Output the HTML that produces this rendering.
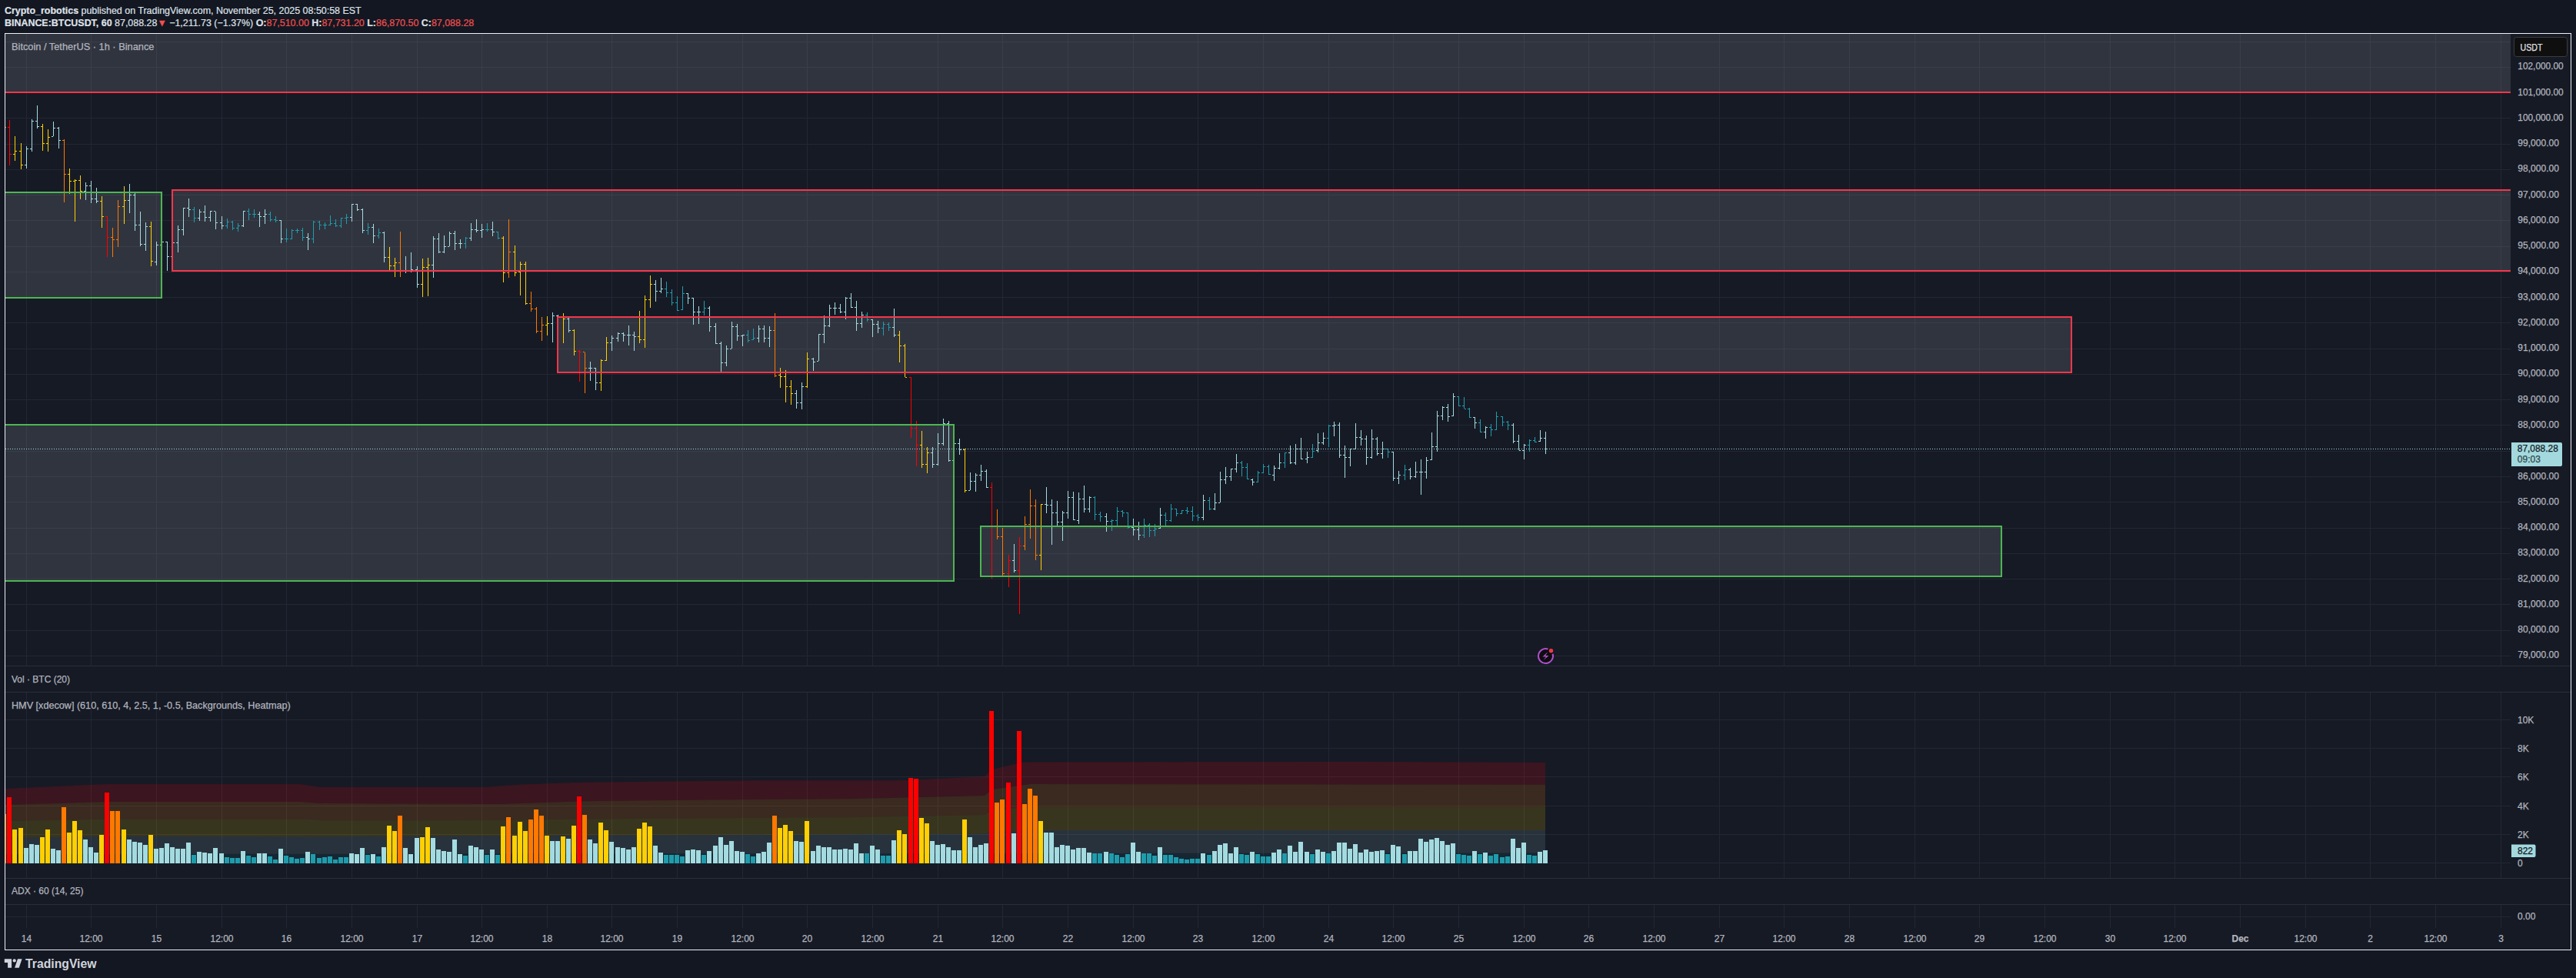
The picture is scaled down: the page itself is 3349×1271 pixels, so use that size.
<!DOCTYPE html>
<html><head><meta charset="utf-8"><title>BTCUSDT chart</title>
<style>
html,body{margin:0;padding:0;background:#131722;}
body{width:3349px;height:1271px;overflow:hidden;position:relative;font-family:"Liberation Sans",Arial,sans-serif;}
svg{position:absolute;left:0;top:0;}
.ax{font-family:"Liberation Sans",Arial,sans-serif;font-size:12px;fill:#b2b5be;stroke:#b2b5be;stroke-width:0.25px;}
.lbl{font-family:"Liberation Sans",Arial,sans-serif;font-size:12px;fill:#b2b5be;stroke:#b2b5be;stroke-width:0.25px;}
.hdr{position:absolute;left:6px;white-space:nowrap;color:#dfe1e8;font-size:12.45px;line-height:15px;-webkit-text-stroke-width:0.2px;}
.hdr b{font-weight:bold;}
.r{color:#f0504f;}
.logo{position:absolute;left:6px;top:1242px;height:22px;}
</style></head>
<body>
<div class="hdr" style="top:6.5px"><b>Crypto_robotics</b> published on TradingView.com, November 25, 2025 08:50:58 EST</div>
<div class="hdr" style="top:23.3px"><b>BINANCE:BTCUSDT, 60</b> 87,088.28<span class="r">▼</span> −1,211.73 (−1.37%) <b>O:</b><span class="r">87,510.00</span> <b>H:</b><span class="r">87,731.20</span> <b>L:</b><span class="r">86,870.50</span> <b>C:</b><span class="r">87,088.28</span></div>
<svg width="3349" height="1271" viewBox="0 0 3349 1271" style="top:0">
<rect x="7" y="44" width="3335" height="1190" fill="#161a25"/>
<rect x="34" y="44" width="1" height="821" fill="#232733"/>
<rect x="118" y="44" width="1" height="821" fill="#232733"/>
<rect x="203" y="44" width="1" height="821" fill="#232733"/>
<rect x="288" y="44" width="1" height="821" fill="#232733"/>
<rect x="372" y="44" width="1" height="821" fill="#232733"/>
<rect x="457" y="44" width="1" height="821" fill="#232733"/>
<rect x="542" y="44" width="1" height="821" fill="#232733"/>
<rect x="626" y="44" width="1" height="821" fill="#232733"/>
<rect x="711" y="44" width="1" height="821" fill="#232733"/>
<rect x="795" y="44" width="1" height="821" fill="#232733"/>
<rect x="880" y="44" width="1" height="821" fill="#232733"/>
<rect x="965" y="44" width="1" height="821" fill="#232733"/>
<rect x="1049" y="44" width="1" height="821" fill="#232733"/>
<rect x="1134" y="44" width="1" height="821" fill="#232733"/>
<rect x="1219" y="44" width="1" height="821" fill="#232733"/>
<rect x="1303" y="44" width="1" height="821" fill="#232733"/>
<rect x="1388" y="44" width="1" height="821" fill="#232733"/>
<rect x="1473" y="44" width="1" height="821" fill="#232733"/>
<rect x="1557" y="44" width="1" height="821" fill="#232733"/>
<rect x="1642" y="44" width="1" height="821" fill="#232733"/>
<rect x="1727" y="44" width="1" height="821" fill="#232733"/>
<rect x="1811" y="44" width="1" height="821" fill="#232733"/>
<rect x="1896" y="44" width="1" height="821" fill="#232733"/>
<rect x="1981" y="44" width="1" height="821" fill="#232733"/>
<rect x="2065" y="44" width="1" height="821" fill="#232733"/>
<rect x="2150" y="44" width="1" height="821" fill="#232733"/>
<rect x="2235" y="44" width="1" height="821" fill="#232733"/>
<rect x="2319" y="44" width="1" height="821" fill="#232733"/>
<rect x="2404" y="44" width="1" height="821" fill="#232733"/>
<rect x="2489" y="44" width="1" height="821" fill="#232733"/>
<rect x="2573" y="44" width="1" height="821" fill="#232733"/>
<rect x="2658" y="44" width="1" height="821" fill="#232733"/>
<rect x="2743" y="44" width="1" height="821" fill="#232733"/>
<rect x="2827" y="44" width="1" height="821" fill="#232733"/>
<rect x="2912" y="44" width="1" height="821" fill="#232733"/>
<rect x="2997" y="44" width="1" height="821" fill="#232733"/>
<rect x="3081" y="44" width="1" height="821" fill="#232733"/>
<rect x="3166" y="44" width="1" height="821" fill="#232733"/>
<rect x="3251" y="44" width="1" height="821" fill="#232733"/>
<rect x="34" y="900" width="1" height="241" fill="#232733"/>
<rect x="118" y="900" width="1" height="241" fill="#232733"/>
<rect x="203" y="900" width="1" height="241" fill="#232733"/>
<rect x="288" y="900" width="1" height="241" fill="#232733"/>
<rect x="372" y="900" width="1" height="241" fill="#232733"/>
<rect x="457" y="900" width="1" height="241" fill="#232733"/>
<rect x="542" y="900" width="1" height="241" fill="#232733"/>
<rect x="626" y="900" width="1" height="241" fill="#232733"/>
<rect x="711" y="900" width="1" height="241" fill="#232733"/>
<rect x="795" y="900" width="1" height="241" fill="#232733"/>
<rect x="880" y="900" width="1" height="241" fill="#232733"/>
<rect x="965" y="900" width="1" height="241" fill="#232733"/>
<rect x="1049" y="900" width="1" height="241" fill="#232733"/>
<rect x="1134" y="900" width="1" height="241" fill="#232733"/>
<rect x="1219" y="900" width="1" height="241" fill="#232733"/>
<rect x="1303" y="900" width="1" height="241" fill="#232733"/>
<rect x="1388" y="900" width="1" height="241" fill="#232733"/>
<rect x="1473" y="900" width="1" height="241" fill="#232733"/>
<rect x="1557" y="900" width="1" height="241" fill="#232733"/>
<rect x="1642" y="900" width="1" height="241" fill="#232733"/>
<rect x="1727" y="900" width="1" height="241" fill="#232733"/>
<rect x="1811" y="900" width="1" height="241" fill="#232733"/>
<rect x="1896" y="900" width="1" height="241" fill="#232733"/>
<rect x="1981" y="900" width="1" height="241" fill="#232733"/>
<rect x="2065" y="900" width="1" height="241" fill="#232733"/>
<rect x="2150" y="900" width="1" height="241" fill="#232733"/>
<rect x="2235" y="900" width="1" height="241" fill="#232733"/>
<rect x="2319" y="900" width="1" height="241" fill="#232733"/>
<rect x="2404" y="900" width="1" height="241" fill="#232733"/>
<rect x="2489" y="900" width="1" height="241" fill="#232733"/>
<rect x="2573" y="900" width="1" height="241" fill="#232733"/>
<rect x="2658" y="900" width="1" height="241" fill="#232733"/>
<rect x="2743" y="900" width="1" height="241" fill="#232733"/>
<rect x="2827" y="900" width="1" height="241" fill="#232733"/>
<rect x="2912" y="900" width="1" height="241" fill="#232733"/>
<rect x="2997" y="900" width="1" height="241" fill="#232733"/>
<rect x="3081" y="900" width="1" height="241" fill="#232733"/>
<rect x="3166" y="900" width="1" height="241" fill="#232733"/>
<rect x="3251" y="900" width="1" height="241" fill="#232733"/>
<rect x="34" y="1176" width="1" height="30" fill="#232733"/>
<rect x="118" y="1176" width="1" height="30" fill="#232733"/>
<rect x="203" y="1176" width="1" height="30" fill="#232733"/>
<rect x="288" y="1176" width="1" height="30" fill="#232733"/>
<rect x="372" y="1176" width="1" height="30" fill="#232733"/>
<rect x="457" y="1176" width="1" height="30" fill="#232733"/>
<rect x="542" y="1176" width="1" height="30" fill="#232733"/>
<rect x="626" y="1176" width="1" height="30" fill="#232733"/>
<rect x="711" y="1176" width="1" height="30" fill="#232733"/>
<rect x="795" y="1176" width="1" height="30" fill="#232733"/>
<rect x="880" y="1176" width="1" height="30" fill="#232733"/>
<rect x="965" y="1176" width="1" height="30" fill="#232733"/>
<rect x="1049" y="1176" width="1" height="30" fill="#232733"/>
<rect x="1134" y="1176" width="1" height="30" fill="#232733"/>
<rect x="1219" y="1176" width="1" height="30" fill="#232733"/>
<rect x="1303" y="1176" width="1" height="30" fill="#232733"/>
<rect x="1388" y="1176" width="1" height="30" fill="#232733"/>
<rect x="1473" y="1176" width="1" height="30" fill="#232733"/>
<rect x="1557" y="1176" width="1" height="30" fill="#232733"/>
<rect x="1642" y="1176" width="1" height="30" fill="#232733"/>
<rect x="1727" y="1176" width="1" height="30" fill="#232733"/>
<rect x="1811" y="1176" width="1" height="30" fill="#232733"/>
<rect x="1896" y="1176" width="1" height="30" fill="#232733"/>
<rect x="1981" y="1176" width="1" height="30" fill="#232733"/>
<rect x="2065" y="1176" width="1" height="30" fill="#232733"/>
<rect x="2150" y="1176" width="1" height="30" fill="#232733"/>
<rect x="2235" y="1176" width="1" height="30" fill="#232733"/>
<rect x="2319" y="1176" width="1" height="30" fill="#232733"/>
<rect x="2404" y="1176" width="1" height="30" fill="#232733"/>
<rect x="2489" y="1176" width="1" height="30" fill="#232733"/>
<rect x="2573" y="1176" width="1" height="30" fill="#232733"/>
<rect x="2658" y="1176" width="1" height="30" fill="#232733"/>
<rect x="2743" y="1176" width="1" height="30" fill="#232733"/>
<rect x="2827" y="1176" width="1" height="30" fill="#232733"/>
<rect x="2912" y="1176" width="1" height="30" fill="#232733"/>
<rect x="2997" y="1176" width="1" height="30" fill="#232733"/>
<rect x="3081" y="1176" width="1" height="30" fill="#232733"/>
<rect x="3166" y="1176" width="1" height="30" fill="#232733"/>
<rect x="3251" y="1176" width="1" height="30" fill="#232733"/>
<rect x="7" y="852" width="3257" height="1" fill="#232733"/>
<rect x="7" y="819" width="3257" height="1" fill="#232733"/>
<rect x="7" y="785" width="3257" height="1" fill="#232733"/>
<rect x="7" y="752" width="3257" height="1" fill="#232733"/>
<rect x="7" y="719" width="3257" height="1" fill="#232733"/>
<rect x="7" y="686" width="3257" height="1" fill="#232733"/>
<rect x="7" y="652" width="3257" height="1" fill="#232733"/>
<rect x="7" y="619" width="3257" height="1" fill="#232733"/>
<rect x="7" y="586" width="3257" height="1" fill="#232733"/>
<rect x="7" y="552" width="3257" height="1" fill="#232733"/>
<rect x="7" y="519" width="3257" height="1" fill="#232733"/>
<rect x="7" y="486" width="3257" height="1" fill="#232733"/>
<rect x="7" y="453" width="3257" height="1" fill="#232733"/>
<rect x="7" y="419" width="3257" height="1" fill="#232733"/>
<rect x="7" y="386" width="3257" height="1" fill="#232733"/>
<rect x="7" y="353" width="3257" height="1" fill="#232733"/>
<rect x="7" y="320" width="3257" height="1" fill="#232733"/>
<rect x="7" y="286" width="3257" height="1" fill="#232733"/>
<rect x="7" y="253" width="3257" height="1" fill="#232733"/>
<rect x="7" y="220" width="3257" height="1" fill="#232733"/>
<rect x="7" y="187" width="3257" height="1" fill="#232733"/>
<rect x="7" y="153" width="3257" height="1" fill="#232733"/>
<rect x="7" y="120" width="3257" height="1" fill="#232733"/>
<rect x="7" y="87" width="3257" height="1" fill="#232733"/>
<rect x="7" y="54" width="3257" height="1" fill="#232733"/>
<rect x="7" y="1121" width="3257" height="1" fill="#232733"/>
<rect x="7" y="1084" width="3257" height="1" fill="#232733"/>
<rect x="7" y="1047" width="3257" height="1" fill="#232733"/>
<rect x="7" y="1009" width="3257" height="1" fill="#232733"/>
<rect x="7" y="972" width="3257" height="1" fill="#232733"/>
<rect x="7" y="935" width="3257" height="1" fill="#232733"/>
<rect x="7" y="1191" width="3257" height="1" fill="#232733"/>
<rect x="7" y="865" width="3335" height="1" fill="#2a2e39"/>
<rect x="7" y="899" width="3335" height="1" fill="#2a2e39"/>
<rect x="7" y="1141" width="3335" height="1" fill="#2a2e39"/>
<rect x="7" y="1175" width="3335" height="1" fill="#2a2e39"/>
<path d="M7.0 1025.0 L140.0 1019.0 L390.0 1019.0 L415.0 1023.0 L630.0 1023.0 L650.0 1021.6 L680.0 1019.6 L750.0 1017.0 L850.0 1015.7 L1000.0 1014.3 L1100.0 1014.3 L1170.0 1014.3 L1280.0 1009.0 L1290.0 1000.0 L1330.0 990.5 L1340.0 990.5 L1760.0 990.0 L2009.0 991.0 L2009.0 1019.8 L1760.0 1019.5 L1340.0 1019.0 L1330.0 1020.4 L1290.0 1026.0 L1280.0 1034.0 L1170.0 1036.6 L1100.0 1038.3 L1000.0 1038.8 L850.0 1040.4 L750.0 1041.5 L680.0 1044.0 L650.0 1045.0 L630.0 1044.9 L415.0 1044.0 L390.0 1042.0 L140.0 1042.0 L7.0 1046.0 Z" fill="rgba(255,0,0,0.16)"/>
<path d="M7.0 1046.0 L140.0 1042.0 L390.0 1042.0 L400.0 1042.8 L415.0 1044.0 L420.0 1044.0 L650.0 1045.0 L750.0 1041.5 L1000.0 1038.8 L1100.0 1038.3 L1280.0 1034.0 L1290.0 1026.0 L1340.0 1019.0 L2009.0 1019.8 L2009.0 1048.6 L1340.0 1048.6 L1290.0 1053.0 L1280.0 1059.0 L1100.0 1062.2 L1000.0 1062.7 L750.0 1064.6 L650.0 1066.0 L420.0 1066.3 L415.0 1065.8 L400.0 1064.4 L390.0 1064.4 L140.0 1064.4 L7.0 1067.0 Z" fill="rgba(255,128,0,0.16)"/>
<path d="M7.0 1067.0 L140.0 1064.4 L400.0 1064.4 L420.0 1066.3 L650.0 1066.0 L750.0 1064.6 L1000.0 1062.7 L1100.0 1062.2 L1280.0 1059.0 L1290.0 1053.0 L1340.0 1048.6 L2009.0 1048.6 L2009.0 1079.0 L1340.0 1079.0 L1290.0 1081.0 L1280.0 1083.6 L1100.0 1084.4 L1000.0 1085.0 L750.0 1086.0 L650.0 1086.4 L420.0 1087.5 L400.0 1087.5 L140.0 1087.0 L7.0 1089.0 Z" fill="rgba(255,208,0,0.15)"/>
<path d="M7.0 1089.0 L140.0 1087.0 L420.0 1087.5 L650.0 1086.4 L1000.0 1085.0 L1100.0 1084.4 L1280.0 1083.6 L1290.0 1081.0 L1340.0 1079.0 L2009.0 1079.0 L2009.0 1108.5 L1340.0 1109.0 L1290.0 1109.0 L1280.0 1109.0 L1100.0 1109.2 L1000.0 1109.3 L650.0 1109.5 L420.0 1109.7 L140.0 1109.9 L7.0 1110.0 Z" fill="rgba(166,219,224,0.13)"/>
<path d="M7.0 1110.0 L2009.0 1108.5 L2009.0 1122.0 L7.0 1122.0 Z" fill="rgba(32,156,173,0.10)"/>
<rect x="7" y="44" width="3257" height="77" fill="rgba(120,123,134,0.28)"/>
<rect x="7" y="249" width="204" height="139" fill="rgba(120,123,134,0.28)"/>
<rect x="223" y="246" width="3041" height="107" fill="rgba(120,123,134,0.28)"/>
<rect x="724" y="411" width="1970" height="74" fill="rgba(120,123,134,0.28)"/>
<rect x="7" y="551" width="1234" height="205" fill="rgba(120,123,134,0.28)"/>
<rect x="1274" y="683" width="1329" height="67" fill="rgba(120,123,134,0.28)"/>
<rect x="7" y="1058" width="1" height="64" fill="#ff7800"/>
<rect x="9" y="1036" width="6" height="86" fill="#ff0000"/>
<rect x="16" y="1078" width="6" height="44" fill="#ffcf03"/>
<rect x="24" y="1076" width="6" height="46" fill="#ffcf03"/>
<rect x="31" y="1102" width="6" height="20" fill="#a3dbe0"/>
<rect x="38" y="1097" width="6" height="25" fill="#a3dbe0"/>
<rect x="45" y="1098" width="6" height="24" fill="#a3dbe0"/>
<rect x="52" y="1088" width="6" height="34" fill="#ffcf03"/>
<rect x="59" y="1078" width="6" height="44" fill="#ffcf03"/>
<rect x="66" y="1103" width="6" height="19" fill="#a3dbe0"/>
<rect x="73" y="1105" width="6" height="17" fill="#a3dbe0"/>
<rect x="80" y="1049" width="6" height="73" fill="#ff7800"/>
<rect x="87" y="1082" width="6" height="40" fill="#ffcf03"/>
<rect x="94" y="1067" width="6" height="55" fill="#ffcf03"/>
<rect x="101" y="1079" width="6" height="43" fill="#ffcf03"/>
<rect x="108" y="1091" width="6" height="31" fill="#a3dbe0"/>
<rect x="115" y="1101" width="6" height="21" fill="#a3dbe0"/>
<rect x="122" y="1108" width="6" height="14" fill="#a3dbe0"/>
<rect x="129" y="1085" width="6" height="37" fill="#ffcf03"/>
<rect x="136" y="1030" width="6" height="92" fill="#ff0000"/>
<rect x="143" y="1054" width="6" height="68" fill="#ff7800"/>
<rect x="150" y="1054" width="6" height="68" fill="#ff7800"/>
<rect x="158" y="1078" width="6" height="44" fill="#ffcf03"/>
<rect x="165" y="1091" width="6" height="31" fill="#a3dbe0"/>
<rect x="172" y="1094" width="6" height="28" fill="#a3dbe0"/>
<rect x="179" y="1095" width="6" height="27" fill="#a3dbe0"/>
<rect x="186" y="1098" width="6" height="24" fill="#a3dbe0"/>
<rect x="193" y="1085" width="6" height="37" fill="#ffcf03"/>
<rect x="200" y="1103" width="6" height="19" fill="#a3dbe0"/>
<rect x="207" y="1102" width="6" height="20" fill="#a3dbe0"/>
<rect x="214" y="1096" width="6" height="26" fill="#a3dbe0"/>
<rect x="221" y="1101" width="6" height="21" fill="#a3dbe0"/>
<rect x="228" y="1103" width="6" height="19" fill="#a3dbe0"/>
<rect x="235" y="1103" width="6" height="19" fill="#a3dbe0"/>
<rect x="242" y="1095" width="6" height="27" fill="#a3dbe0"/>
<rect x="249" y="1111" width="6" height="11" fill="#1f9cac"/>
<rect x="256" y="1107" width="6" height="15" fill="#a3dbe0"/>
<rect x="263" y="1108" width="6" height="14" fill="#a3dbe0"/>
<rect x="270" y="1109" width="6" height="13" fill="#a3dbe0"/>
<rect x="277" y="1102" width="6" height="20" fill="#a3dbe0"/>
<rect x="285" y="1109" width="6" height="13" fill="#a3dbe0"/>
<rect x="292" y="1114" width="6" height="8" fill="#1f9cac"/>
<rect x="299" y="1115" width="6" height="7" fill="#1f9cac"/>
<rect x="306" y="1115" width="6" height="7" fill="#1f9cac"/>
<rect x="313" y="1106" width="6" height="16" fill="#a3dbe0"/>
<rect x="320" y="1112" width="6" height="10" fill="#1f9cac"/>
<rect x="327" y="1114" width="6" height="8" fill="#1f9cac"/>
<rect x="334" y="1109" width="6" height="13" fill="#a3dbe0"/>
<rect x="341" y="1109" width="6" height="13" fill="#a3dbe0"/>
<rect x="348" y="1113" width="6" height="9" fill="#1f9cac"/>
<rect x="355" y="1117" width="6" height="5" fill="#1f9cac"/>
<rect x="362" y="1103" width="6" height="19" fill="#a3dbe0"/>
<rect x="369" y="1112" width="6" height="10" fill="#1f9cac"/>
<rect x="376" y="1114" width="6" height="8" fill="#1f9cac"/>
<rect x="383" y="1116" width="6" height="6" fill="#1f9cac"/>
<rect x="390" y="1115" width="6" height="7" fill="#1f9cac"/>
<rect x="397" y="1107" width="6" height="15" fill="#a3dbe0"/>
<rect x="404" y="1110" width="6" height="12" fill="#1f9cac"/>
<rect x="412" y="1115" width="6" height="7" fill="#1f9cac"/>
<rect x="419" y="1114" width="6" height="8" fill="#1f9cac"/>
<rect x="426" y="1113" width="6" height="9" fill="#1f9cac"/>
<rect x="433" y="1117" width="6" height="5" fill="#1f9cac"/>
<rect x="440" y="1114" width="6" height="8" fill="#1f9cac"/>
<rect x="447" y="1114" width="6" height="8" fill="#1f9cac"/>
<rect x="454" y="1109" width="6" height="13" fill="#a3dbe0"/>
<rect x="461" y="1110" width="6" height="12" fill="#a3dbe0"/>
<rect x="468" y="1102" width="6" height="20" fill="#a3dbe0"/>
<rect x="475" y="1111" width="6" height="11" fill="#1f9cac"/>
<rect x="482" y="1110" width="6" height="12" fill="#a3dbe0"/>
<rect x="489" y="1113" width="6" height="9" fill="#1f9cac"/>
<rect x="496" y="1101" width="6" height="21" fill="#a3dbe0"/>
<rect x="503" y="1073" width="6" height="49" fill="#ffcf03"/>
<rect x="510" y="1080" width="6" height="42" fill="#ffcf03"/>
<rect x="517" y="1060" width="6" height="62" fill="#ff7800"/>
<rect x="524" y="1102" width="6" height="20" fill="#a3dbe0"/>
<rect x="531" y="1110" width="6" height="12" fill="#a3dbe0"/>
<rect x="539" y="1089" width="6" height="33" fill="#a3dbe0"/>
<rect x="546" y="1088" width="6" height="34" fill="#ffcf03"/>
<rect x="553" y="1075" width="6" height="47" fill="#ffcf03"/>
<rect x="560" y="1089" width="6" height="33" fill="#a3dbe0"/>
<rect x="567" y="1104" width="6" height="18" fill="#a3dbe0"/>
<rect x="574" y="1106" width="6" height="16" fill="#a3dbe0"/>
<rect x="581" y="1107" width="6" height="15" fill="#a3dbe0"/>
<rect x="588" y="1091" width="6" height="31" fill="#a3dbe0"/>
<rect x="595" y="1110" width="6" height="12" fill="#a3dbe0"/>
<rect x="602" y="1112" width="6" height="10" fill="#1f9cac"/>
<rect x="609" y="1099" width="6" height="23" fill="#a3dbe0"/>
<rect x="616" y="1101" width="6" height="21" fill="#a3dbe0"/>
<rect x="623" y="1104" width="6" height="18" fill="#a3dbe0"/>
<rect x="630" y="1111" width="6" height="11" fill="#1f9cac"/>
<rect x="637" y="1104" width="6" height="18" fill="#a3dbe0"/>
<rect x="644" y="1111" width="6" height="11" fill="#1f9cac"/>
<rect x="651" y="1074" width="6" height="48" fill="#ffcf03"/>
<rect x="658" y="1062" width="6" height="60" fill="#ff7800"/>
<rect x="666" y="1086" width="6" height="36" fill="#ffcf03"/>
<rect x="673" y="1068" width="6" height="54" fill="#ffcf03"/>
<rect x="680" y="1080" width="6" height="42" fill="#ffcf03"/>
<rect x="687" y="1065" width="6" height="57" fill="#ff7800"/>
<rect x="694" y="1052" width="6" height="70" fill="#ff7800"/>
<rect x="701" y="1060" width="6" height="62" fill="#ff7800"/>
<rect x="708" y="1086" width="6" height="36" fill="#ffcf03"/>
<rect x="715" y="1093" width="6" height="29" fill="#a3dbe0"/>
<rect x="722" y="1093" width="6" height="29" fill="#a3dbe0"/>
<rect x="729" y="1087" width="6" height="35" fill="#ffcf03"/>
<rect x="736" y="1090" width="6" height="32" fill="#a3dbe0"/>
<rect x="743" y="1073" width="6" height="49" fill="#ffcf03"/>
<rect x="750" y="1035" width="6" height="87" fill="#ff0000"/>
<rect x="757" y="1059" width="6" height="63" fill="#ff7800"/>
<rect x="764" y="1091" width="6" height="31" fill="#a3dbe0"/>
<rect x="771" y="1096" width="6" height="26" fill="#a3dbe0"/>
<rect x="778" y="1069" width="6" height="53" fill="#ffcf03"/>
<rect x="785" y="1079" width="6" height="43" fill="#ffcf03"/>
<rect x="792" y="1094" width="6" height="28" fill="#a3dbe0"/>
<rect x="800" y="1101" width="6" height="21" fill="#a3dbe0"/>
<rect x="807" y="1102" width="6" height="20" fill="#a3dbe0"/>
<rect x="814" y="1104" width="6" height="18" fill="#a3dbe0"/>
<rect x="821" y="1101" width="6" height="21" fill="#a3dbe0"/>
<rect x="828" y="1077" width="6" height="45" fill="#ffcf03"/>
<rect x="835" y="1069" width="6" height="53" fill="#ffcf03"/>
<rect x="842" y="1074" width="6" height="48" fill="#ffcf03"/>
<rect x="849" y="1099" width="6" height="23" fill="#a3dbe0"/>
<rect x="856" y="1108" width="6" height="14" fill="#a3dbe0"/>
<rect x="863" y="1111" width="6" height="11" fill="#1f9cac"/>
<rect x="870" y="1111" width="6" height="11" fill="#1f9cac"/>
<rect x="877" y="1111" width="6" height="11" fill="#1f9cac"/>
<rect x="884" y="1113" width="6" height="9" fill="#1f9cac"/>
<rect x="891" y="1105" width="6" height="17" fill="#a3dbe0"/>
<rect x="898" y="1104" width="6" height="18" fill="#a3dbe0"/>
<rect x="905" y="1105" width="6" height="17" fill="#a3dbe0"/>
<rect x="912" y="1111" width="6" height="11" fill="#1f9cac"/>
<rect x="919" y="1106" width="6" height="16" fill="#a3dbe0"/>
<rect x="927" y="1099" width="6" height="23" fill="#a3dbe0"/>
<rect x="934" y="1088" width="6" height="34" fill="#a3dbe0"/>
<rect x="941" y="1098" width="6" height="24" fill="#a3dbe0"/>
<rect x="948" y="1093" width="6" height="29" fill="#a3dbe0"/>
<rect x="955" y="1106" width="6" height="16" fill="#a3dbe0"/>
<rect x="962" y="1107" width="6" height="15" fill="#a3dbe0"/>
<rect x="969" y="1110" width="6" height="12" fill="#1f9cac"/>
<rect x="976" y="1113" width="6" height="9" fill="#1f9cac"/>
<rect x="983" y="1109" width="6" height="13" fill="#a3dbe0"/>
<rect x="990" y="1107" width="6" height="15" fill="#a3dbe0"/>
<rect x="997" y="1095" width="6" height="27" fill="#a3dbe0"/>
<rect x="1004" y="1060" width="6" height="62" fill="#ff7800"/>
<rect x="1011" y="1076" width="6" height="46" fill="#ffcf03"/>
<rect x="1018" y="1072" width="6" height="50" fill="#ffcf03"/>
<rect x="1025" y="1080" width="6" height="42" fill="#ffcf03"/>
<rect x="1032" y="1093" width="6" height="29" fill="#a3dbe0"/>
<rect x="1039" y="1094" width="6" height="28" fill="#a3dbe0"/>
<rect x="1046" y="1067" width="6" height="55" fill="#ffcf03"/>
<rect x="1054" y="1106" width="6" height="16" fill="#a3dbe0"/>
<rect x="1061" y="1099" width="6" height="23" fill="#a3dbe0"/>
<rect x="1068" y="1101" width="6" height="21" fill="#a3dbe0"/>
<rect x="1075" y="1101" width="6" height="21" fill="#a3dbe0"/>
<rect x="1082" y="1104" width="6" height="18" fill="#a3dbe0"/>
<rect x="1089" y="1104" width="6" height="18" fill="#a3dbe0"/>
<rect x="1096" y="1103" width="6" height="19" fill="#a3dbe0"/>
<rect x="1103" y="1104" width="6" height="18" fill="#a3dbe0"/>
<rect x="1110" y="1096" width="6" height="26" fill="#a3dbe0"/>
<rect x="1117" y="1109" width="6" height="13" fill="#a3dbe0"/>
<rect x="1124" y="1109" width="6" height="13" fill="#1f9cac"/>
<rect x="1131" y="1099" width="6" height="23" fill="#a3dbe0"/>
<rect x="1138" y="1104" width="6" height="18" fill="#a3dbe0"/>
<rect x="1145" y="1112" width="6" height="10" fill="#1f9cac"/>
<rect x="1152" y="1112" width="6" height="10" fill="#1f9cac"/>
<rect x="1159" y="1092" width="6" height="30" fill="#a3dbe0"/>
<rect x="1166" y="1079" width="6" height="43" fill="#ffcf03"/>
<rect x="1173" y="1084" width="6" height="38" fill="#ffcf03"/>
<rect x="1181" y="1011" width="6" height="111" fill="#ff0000"/>
<rect x="1188" y="1012" width="6" height="110" fill="#ff0000"/>
<rect x="1195" y="1063" width="6" height="59" fill="#ffcf03"/>
<rect x="1202" y="1070" width="6" height="52" fill="#ffcf03"/>
<rect x="1209" y="1093" width="6" height="29" fill="#a3dbe0"/>
<rect x="1216" y="1098" width="6" height="24" fill="#a3dbe0"/>
<rect x="1223" y="1097" width="6" height="25" fill="#a3dbe0"/>
<rect x="1230" y="1101" width="6" height="21" fill="#a3dbe0"/>
<rect x="1237" y="1105" width="6" height="17" fill="#a3dbe0"/>
<rect x="1244" y="1105" width="6" height="17" fill="#a3dbe0"/>
<rect x="1251" y="1065" width="6" height="57" fill="#ffcf03"/>
<rect x="1258" y="1088" width="6" height="34" fill="#a3dbe0"/>
<rect x="1265" y="1101" width="6" height="21" fill="#a3dbe0"/>
<rect x="1272" y="1098" width="6" height="24" fill="#a3dbe0"/>
<rect x="1279" y="1096" width="6" height="26" fill="#a3dbe0"/>
<rect x="1286" y="924" width="6" height="198" fill="#ff0000"/>
<rect x="1293" y="1043" width="6" height="79" fill="#ff7800"/>
<rect x="1300" y="1039" width="6" height="83" fill="#ff7800"/>
<rect x="1308" y="1017" width="6" height="105" fill="#ff0000"/>
<rect x="1315" y="1083" width="6" height="39" fill="#a3dbe0"/>
<rect x="1322" y="950" width="6" height="172" fill="#ff0000"/>
<rect x="1329" y="1045" width="6" height="77" fill="#ff7800"/>
<rect x="1336" y="1025" width="6" height="97" fill="#ff7800"/>
<rect x="1343" y="1034" width="6" height="88" fill="#ff7800"/>
<rect x="1350" y="1067" width="6" height="55" fill="#ffcf03"/>
<rect x="1357" y="1082" width="6" height="40" fill="#a3dbe0"/>
<rect x="1364" y="1082" width="6" height="40" fill="#a3dbe0"/>
<rect x="1371" y="1101" width="6" height="21" fill="#a3dbe0"/>
<rect x="1378" y="1098" width="6" height="24" fill="#a3dbe0"/>
<rect x="1385" y="1099" width="6" height="23" fill="#a3dbe0"/>
<rect x="1392" y="1104" width="6" height="18" fill="#a3dbe0"/>
<rect x="1399" y="1102" width="6" height="20" fill="#a3dbe0"/>
<rect x="1406" y="1102" width="6" height="20" fill="#a3dbe0"/>
<rect x="1413" y="1108" width="6" height="14" fill="#a3dbe0"/>
<rect x="1420" y="1109" width="6" height="13" fill="#1f9cac"/>
<rect x="1427" y="1109" width="6" height="13" fill="#1f9cac"/>
<rect x="1435" y="1107" width="6" height="15" fill="#a3dbe0"/>
<rect x="1442" y="1109" width="6" height="13" fill="#1f9cac"/>
<rect x="1449" y="1111" width="6" height="11" fill="#1f9cac"/>
<rect x="1456" y="1114" width="6" height="8" fill="#1f9cac"/>
<rect x="1463" y="1110" width="6" height="12" fill="#1f9cac"/>
<rect x="1470" y="1095" width="6" height="27" fill="#a3dbe0"/>
<rect x="1477" y="1107" width="6" height="15" fill="#a3dbe0"/>
<rect x="1484" y="1109" width="6" height="13" fill="#1f9cac"/>
<rect x="1491" y="1109" width="6" height="13" fill="#1f9cac"/>
<rect x="1498" y="1112" width="6" height="10" fill="#1f9cac"/>
<rect x="1505" y="1101" width="6" height="21" fill="#a3dbe0"/>
<rect x="1512" y="1111" width="6" height="11" fill="#1f9cac"/>
<rect x="1519" y="1111" width="6" height="11" fill="#1f9cac"/>
<rect x="1526" y="1114" width="6" height="8" fill="#1f9cac"/>
<rect x="1533" y="1116" width="6" height="6" fill="#1f9cac"/>
<rect x="1540" y="1117" width="6" height="5" fill="#1f9cac"/>
<rect x="1547" y="1116" width="6" height="6" fill="#1f9cac"/>
<rect x="1554" y="1116" width="6" height="6" fill="#1f9cac"/>
<rect x="1561" y="1109" width="6" height="13" fill="#a3dbe0"/>
<rect x="1569" y="1111" width="6" height="11" fill="#1f9cac"/>
<rect x="1576" y="1106" width="6" height="16" fill="#a3dbe0"/>
<rect x="1583" y="1098" width="6" height="24" fill="#a3dbe0"/>
<rect x="1590" y="1096" width="6" height="26" fill="#a3dbe0"/>
<rect x="1597" y="1109" width="6" height="13" fill="#a3dbe0"/>
<rect x="1604" y="1101" width="6" height="21" fill="#a3dbe0"/>
<rect x="1611" y="1110" width="6" height="12" fill="#1f9cac"/>
<rect x="1618" y="1111" width="6" height="11" fill="#1f9cac"/>
<rect x="1625" y="1107" width="6" height="15" fill="#a3dbe0"/>
<rect x="1632" y="1110" width="6" height="12" fill="#1f9cac"/>
<rect x="1639" y="1113" width="6" height="9" fill="#1f9cac"/>
<rect x="1646" y="1113" width="6" height="9" fill="#1f9cac"/>
<rect x="1653" y="1108" width="6" height="14" fill="#a3dbe0"/>
<rect x="1660" y="1104" width="6" height="18" fill="#a3dbe0"/>
<rect x="1667" y="1109" width="6" height="13" fill="#1f9cac"/>
<rect x="1674" y="1099" width="6" height="23" fill="#a3dbe0"/>
<rect x="1681" y="1107" width="6" height="15" fill="#a3dbe0"/>
<rect x="1688" y="1094" width="6" height="28" fill="#a3dbe0"/>
<rect x="1696" y="1107" width="6" height="15" fill="#a3dbe0"/>
<rect x="1703" y="1110" width="6" height="12" fill="#1f9cac"/>
<rect x="1710" y="1104" width="6" height="18" fill="#a3dbe0"/>
<rect x="1717" y="1107" width="6" height="15" fill="#a3dbe0"/>
<rect x="1724" y="1109" width="6" height="13" fill="#1f9cac"/>
<rect x="1731" y="1106" width="6" height="16" fill="#a3dbe0"/>
<rect x="1738" y="1095" width="6" height="27" fill="#a3dbe0"/>
<rect x="1745" y="1095" width="6" height="27" fill="#a3dbe0"/>
<rect x="1752" y="1103" width="6" height="19" fill="#a3dbe0"/>
<rect x="1759" y="1097" width="6" height="25" fill="#a3dbe0"/>
<rect x="1766" y="1108" width="6" height="14" fill="#a3dbe0"/>
<rect x="1773" y="1104" width="6" height="18" fill="#a3dbe0"/>
<rect x="1780" y="1107" width="6" height="15" fill="#a3dbe0"/>
<rect x="1787" y="1106" width="6" height="16" fill="#a3dbe0"/>
<rect x="1794" y="1105" width="6" height="17" fill="#a3dbe0"/>
<rect x="1801" y="1110" width="6" height="12" fill="#1f9cac"/>
<rect x="1808" y="1098" width="6" height="24" fill="#a3dbe0"/>
<rect x="1815" y="1100" width="6" height="22" fill="#a3dbe0"/>
<rect x="1823" y="1110" width="6" height="12" fill="#1f9cac"/>
<rect x="1830" y="1106" width="6" height="16" fill="#a3dbe0"/>
<rect x="1837" y="1106" width="6" height="16" fill="#a3dbe0"/>
<rect x="1844" y="1090" width="6" height="32" fill="#a3dbe0"/>
<rect x="1851" y="1094" width="6" height="28" fill="#a3dbe0"/>
<rect x="1858" y="1091" width="6" height="31" fill="#a3dbe0"/>
<rect x="1865" y="1089" width="6" height="33" fill="#a3dbe0"/>
<rect x="1872" y="1093" width="6" height="29" fill="#a3dbe0"/>
<rect x="1879" y="1098" width="6" height="24" fill="#a3dbe0"/>
<rect x="1886" y="1096" width="6" height="26" fill="#a3dbe0"/>
<rect x="1893" y="1110" width="6" height="12" fill="#1f9cac"/>
<rect x="1900" y="1111" width="6" height="11" fill="#1f9cac"/>
<rect x="1907" y="1112" width="6" height="10" fill="#1f9cac"/>
<rect x="1914" y="1106" width="6" height="16" fill="#a3dbe0"/>
<rect x="1921" y="1110" width="6" height="12" fill="#1f9cac"/>
<rect x="1928" y="1108" width="6" height="14" fill="#a3dbe0"/>
<rect x="1935" y="1112" width="6" height="10" fill="#1f9cac"/>
<rect x="1942" y="1110" width="6" height="12" fill="#1f9cac"/>
<rect x="1950" y="1114" width="6" height="8" fill="#1f9cac"/>
<rect x="1957" y="1113" width="6" height="9" fill="#1f9cac"/>
<rect x="1964" y="1090" width="6" height="32" fill="#a3dbe0"/>
<rect x="1971" y="1102" width="6" height="20" fill="#a3dbe0"/>
<rect x="1978" y="1095" width="6" height="27" fill="#a3dbe0"/>
<rect x="1985" y="1111" width="6" height="11" fill="#1f9cac"/>
<rect x="1992" y="1112" width="6" height="10" fill="#1f9cac"/>
<rect x="1999" y="1107" width="6" height="15" fill="#a3dbe0"/>
<rect x="2006" y="1105" width="6" height="17" fill="#a3dbe0"/>
<path d="M7 165h1v1h-1z" fill="#ff7800"/>
<path d="M12 156h1v59h-1zM10 165h2v1h-2zM13 200h2v1h-2z" fill="#ff0000"/>
<path d="M19 177h1v32h-1zM17 200h2v1h-2zM20 196h2v1h-2z" fill="#ffcf03"/>
<path d="M27 186h1v34h-1zM25 196h2v1h-2zM28 214h2v1h-2z" fill="#ffcf03"/>
<path d="M34 190h1v29h-1zM32 214h2v1h-2zM35 193h2v1h-2z" fill="#a3dbe0"/>
<path d="M41 155h1v42h-1zM39 193h2v1h-2zM42 157h2v1h-2z" fill="#a3dbe0"/>
<path d="M48 137h1v30h-1zM46 157h2v1h-2zM49 164h2v1h-2z" fill="#a3dbe0"/>
<path d="M55 161h1v35h-1zM53 164h2v1h-2zM56 186h2v1h-2z" fill="#ffcf03"/>
<path d="M62 168h1v29h-1zM60 186h2v1h-2zM63 178h2v1h-2z" fill="#ffcf03"/>
<path d="M69 158h1v19h-1zM67 177h2v1h-2zM70 166h2v1h-2z" fill="#a3dbe0"/>
<path d="M76 165h1v28h-1zM74 166h2v1h-2zM77 182h2v1h-2z" fill="#a3dbe0"/>
<path d="M83 181h1v82h-1zM81 182h2v1h-2zM84 226h2v1h-2z" fill="#ff7800"/>
<path d="M90 219h1v33h-1zM88 226h2v1h-2zM91 235h2v1h-2z" fill="#ffcf03"/>
<path d="M97 233h1v55h-1zM95 235h2v1h-2zM98 234h2v1h-2z" fill="#ffcf03"/>
<path d="M104 228h1v31h-1zM102 234h2v1h-2zM105 248h2v1h-2z" fill="#ffcf03"/>
<path d="M111 237h1v23h-1zM109 248h2v1h-2zM112 241h2v1h-2z" fill="#a3dbe0"/>
<path d="M118 235h1v29h-1zM116 241h2v1h-2zM119 258h2v1h-2z" fill="#a3dbe0"/>
<path d="M125 244h1v20h-1zM123 258h2v1h-2zM126 261h2v1h-2z" fill="#a3dbe0"/>
<path d="M132 255h1v41h-1zM130 261h2v1h-2zM133 281h2v1h-2z" fill="#ffcf03"/>
<path d="M139 281h1v53h-1zM137 281h2v1h-2zM140 308h2v1h-2z" fill="#ff0000"/>
<path d="M146 296h1v38h-1zM144 308h2v1h-2zM147 311h2v1h-2z" fill="#ff7800"/>
<path d="M153 260h1v61h-1zM151 311h2v1h-2zM154 268h2v1h-2z" fill="#ff7800"/>
<path d="M161 242h1v49h-1zM159 268h2v1h-2zM162 260h2v1h-2z" fill="#ffcf03"/>
<path d="M168 239h1v38h-1zM166 260h2v1h-2zM169 253h2v1h-2z" fill="#a3dbe0"/>
<path d="M175 251h1v49h-1zM173 253h2v1h-2zM176 292h2v1h-2z" fill="#a3dbe0"/>
<path d="M182 275h1v45h-1zM180 292h2v1h-2zM183 317h2v1h-2z" fill="#a3dbe0"/>
<path d="M189 289h1v37h-1zM187 317h2v1h-2zM190 294h2v1h-2z" fill="#a3dbe0"/>
<path d="M196 288h1v58h-1zM194 294h2v1h-2zM197 339h2v1h-2z" fill="#ffcf03"/>
<path d="M203 314h1v31h-1zM201 340h2v1h-2zM204 318h2v1h-2z" fill="#a3dbe0"/>
<path d="M210 313h1v6h-1zM208 318h2v1h-2zM211 314h2v1h-2z" fill="#a3dbe0"/>
<path d="M217 314h1v38h-1zM215 314h2v1h-2zM218 333h2v1h-2z" fill="#a3dbe0"/>
<path d="M224 315h1v20h-1zM222 333h2v1h-2zM225 315h2v1h-2z" fill="#a3dbe0"/>
<path d="M231 293h1v35h-1zM229 315h2v1h-2zM232 298h2v1h-2z" fill="#a3dbe0"/>
<path d="M238 270h1v36h-1zM236 298h2v1h-2zM239 270h2v1h-2z" fill="#a3dbe0"/>
<path d="M245 258h1v24h-1zM243 270h2v1h-2zM246 272h2v1h-2z" fill="#a3dbe0"/>
<path d="M252 269h1v20h-1zM250 272h2v1h-2zM253 283h2v1h-2z" fill="#1f9cac"/>
<path d="M259 272h1v15h-1zM257 283h2v1h-2zM260 275h2v1h-2z" fill="#a3dbe0"/>
<path d="M266 267h1v21h-1zM264 275h2v1h-2zM267 282h2v1h-2z" fill="#a3dbe0"/>
<path d="M273 274h1v14h-1zM271 282h2v1h-2zM274 274h2v1h-2z" fill="#a3dbe0"/>
<path d="M280 275h1v23h-1zM278 274h2v1h-2zM281 289h2v1h-2z" fill="#a3dbe0"/>
<path d="M288 281h1v17h-1zM286 289h2v1h-2zM289 293h2v1h-2z" fill="#a3dbe0"/>
<path d="M295 284h1v13h-1zM293 293h2v1h-2zM296 288h2v1h-2z" fill="#1f9cac"/>
<path d="M302 287h1v12h-1zM300 288h2v1h-2zM303 296h2v1h-2z" fill="#1f9cac"/>
<path d="M309 290h1v11h-1zM307 296h2v1h-2zM310 293h2v1h-2z" fill="#1f9cac"/>
<path d="M316 274h1v21h-1zM314 293h2v1h-2zM317 274h2v1h-2z" fill="#a3dbe0"/>
<path d="M323 271h1v15h-1zM321 274h2v1h-2zM324 278h2v1h-2z" fill="#1f9cac"/>
<path d="M330 272h1v11h-1zM328 278h2v1h-2zM331 278h2v1h-2z" fill="#1f9cac"/>
<path d="M337 275h1v20h-1zM335 278h2v1h-2zM338 281h2v1h-2z" fill="#a3dbe0"/>
<path d="M344 272h1v19h-1zM342 281h2v1h-2zM345 278h2v1h-2z" fill="#a3dbe0"/>
<path d="M351 275h1v13h-1zM349 278h2v1h-2zM352 285h2v1h-2z" fill="#1f9cac"/>
<path d="M358 281h1v8h-1zM356 285h2v1h-2zM359 286h2v1h-2z" fill="#1f9cac"/>
<path d="M365 286h1v30h-1zM363 286h2v1h-2zM366 310h2v1h-2z" fill="#a3dbe0"/>
<path d="M372 297h1v18h-1zM370 310h2v1h-2zM373 310h2v1h-2z" fill="#1f9cac"/>
<path d="M379 298h1v13h-1zM377 310h2v1h-2zM380 299h2v1h-2z" fill="#1f9cac"/>
<path d="M386 297h1v6h-1zM384 299h2v1h-2zM387 299h2v1h-2z" fill="#1f9cac"/>
<path d="M393 296h1v17h-1zM391 299h2v1h-2zM394 308h2v1h-2z" fill="#1f9cac"/>
<path d="M400 303h1v22h-1zM398 308h2v1h-2zM401 310h2v1h-2z" fill="#a3dbe0"/>
<path d="M407 287h1v29h-1zM405 310h2v1h-2zM408 288h2v1h-2z" fill="#1f9cac"/>
<path d="M415 287h1v12h-1zM413 288h2v1h-2zM416 292h2v1h-2z" fill="#1f9cac"/>
<path d="M422 289h1v9h-1zM420 292h2v1h-2zM423 292h2v1h-2z" fill="#1f9cac"/>
<path d="M429 280h1v13h-1zM427 292h2v1h-2zM430 290h2v1h-2z" fill="#1f9cac"/>
<path d="M436 285h1v10h-1zM434 290h2v1h-2zM437 293h2v1h-2z" fill="#1f9cac"/>
<path d="M443 283h1v13h-1zM441 293h2v1h-2zM444 283h2v1h-2z" fill="#1f9cac"/>
<path d="M450 278h1v13h-1zM448 283h2v1h-2zM451 282h2v1h-2z" fill="#1f9cac"/>
<path d="M457 265h1v23h-1zM455 282h2v1h-2zM458 265h2v1h-2z" fill="#a3dbe0"/>
<path d="M464 265h1v9h-1zM462 265h2v1h-2zM465 272h2v1h-2z" fill="#a3dbe0"/>
<path d="M471 271h1v32h-1zM469 272h2v1h-2zM472 299h2v1h-2z" fill="#a3dbe0"/>
<path d="M478 290h1v15h-1zM476 299h2v1h-2zM479 295h2v1h-2z" fill="#1f9cac"/>
<path d="M485 291h1v25h-1zM483 295h2v1h-2zM486 306h2v1h-2z" fill="#a3dbe0"/>
<path d="M492 297h1v13h-1zM490 306h2v1h-2zM493 302h2v1h-2z" fill="#1f9cac"/>
<path d="M499 301h1v40h-1zM497 302h2v1h-2zM500 334h2v1h-2z" fill="#a3dbe0"/>
<path d="M506 321h1v30h-1zM504 334h2v1h-2zM507 345h2v1h-2z" fill="#ffcf03"/>
<path d="M513 335h1v25h-1zM511 345h2v1h-2zM514 341h2v1h-2z" fill="#ffcf03"/>
<path d="M520 301h1v59h-1zM518 341h2v1h-2z" fill="#ff7800"/>
<path d="M527 333h1v22h-1z" fill="#a3dbe0"/>
<path d="M534 328h1v26h-1zM535 350h2v1h-2z" fill="#a3dbe0"/>
<path d="M542 346h1v28h-1zM540 350h2v1h-2zM543 369h2v1h-2z" fill="#a3dbe0"/>
<path d="M549 336h1v50h-1zM547 369h2v1h-2zM550 347h2v1h-2z" fill="#ffcf03"/>
<path d="M556 335h1v50h-1zM554 347h2v1h-2zM557 344h2v1h-2z" fill="#ffcf03"/>
<path d="M563 307h1v54h-1zM561 344h2v1h-2zM564 310h2v1h-2z" fill="#a3dbe0"/>
<path d="M570 303h1v26h-1zM568 310h2v1h-2zM571 327h2v1h-2z" fill="#a3dbe0"/>
<path d="M577 306h1v23h-1zM575 327h2v1h-2zM578 320h2v1h-2z" fill="#a3dbe0"/>
<path d="M584 301h1v19h-1zM582 320h2v1h-2zM585 303h2v1h-2z" fill="#a3dbe0"/>
<path d="M591 300h1v25h-1zM589 303h2v1h-2zM592 316h2v1h-2z" fill="#a3dbe0"/>
<path d="M598 311h1v12h-1zM596 316h2v1h-2zM599 316h2v1h-2z" fill="#a3dbe0"/>
<path d="M605 308h1v15h-1zM603 316h2v1h-2zM606 309h2v1h-2z" fill="#1f9cac"/>
<path d="M612 290h1v23h-1zM610 309h2v1h-2zM613 298h2v1h-2z" fill="#a3dbe0"/>
<path d="M619 285h1v17h-1zM617 298h2v1h-2zM620 299h2v1h-2z" fill="#a3dbe0"/>
<path d="M626 291h1v18h-1zM624 299h2v1h-2zM627 298h2v1h-2z" fill="#a3dbe0"/>
<path d="M633 290h1v11h-1zM631 298h2v1h-2zM634 298h2v1h-2z" fill="#1f9cac"/>
<path d="M640 288h1v19h-1zM638 298h2v1h-2zM641 301h2v1h-2z" fill="#a3dbe0"/>
<path d="M647 301h1v10h-1zM645 301h2v1h-2zM648 309h2v1h-2z" fill="#1f9cac"/>
<path d="M654 307h1v60h-1zM652 309h2v1h-2zM655 354h2v1h-2z" fill="#ffcf03"/>
<path d="M661 285h1v76h-1zM659 354h2v1h-2zM662 327h2v1h-2z" fill="#ff7800"/>
<path d="M669 319h1v40h-1zM667 327h2v1h-2zM670 354h2v1h-2z" fill="#ffcf03"/>
<path d="M676 340h1v44h-1zM674 353h2v1h-2zM677 343h2v1h-2z" fill="#ffcf03"/>
<path d="M683 340h1v56h-1zM681 343h2v1h-2zM684 394h2v1h-2z" fill="#ffcf03"/>
<path d="M690 379h1v26h-1zM688 394h2v1h-2zM691 401h2v1h-2z" fill="#ff7800"/>
<path d="M697 399h1v34h-1zM695 401h2v1h-2zM698 430h2v1h-2z" fill="#ff7800"/>
<path d="M704 412h1v31h-1zM702 430h2v1h-2zM705 422h2v1h-2z" fill="#ff7800"/>
<path d="M711 411h1v25h-1zM709 422h2v1h-2zM712 420h2v1h-2z" fill="#ffcf03"/>
<path d="M718 406h1v39h-1zM716 420h2v1h-2zM719 410h2v1h-2z" fill="#a3dbe0"/>
<path d="M725 409h1v5h-1zM723 410h2v1h-2zM726 411h2v1h-2z" fill="#a3dbe0"/>
<path d="M732 407h1v39h-1zM730 411h2v1h-2zM733 414h2v1h-2z" fill="#ffcf03"/>
<path d="M739 413h1v19h-1zM737 414h2v1h-2zM740 429h2v1h-2z" fill="#a3dbe0"/>
<path d="M746 428h1v34h-1zM744 429h2v1h-2zM747 456h2v1h-2z" fill="#ffcf03"/>
<path d="M753 455h1v41h-1zM751 456h2v1h-2zM754 457h2v1h-2z" fill="#ff0000"/>
<path d="M760 458h1v53h-1zM758 457h2v1h-2zM761 478h2v1h-2z" fill="#ff7800"/>
<path d="M767 470h1v25h-1zM765 478h2v1h-2zM768 478h2v1h-2z" fill="#a3dbe0"/>
<path d="M774 478h1v29h-1zM772 478h2v1h-2zM775 497h2v1h-2z" fill="#a3dbe0"/>
<path d="M781 467h1v41h-1zM779 497h2v1h-2zM782 468h2v1h-2z" fill="#ffcf03"/>
<path d="M788 438h1v31h-1zM786 468h2v1h-2zM789 445h2v1h-2z" fill="#ffcf03"/>
<path d="M795 436h1v20h-1zM793 445h2v1h-2zM796 439h2v1h-2z" fill="#a3dbe0"/>
<path d="M803 432h1v12h-1zM801 439h2v1h-2zM804 433h2v1h-2z" fill="#a3dbe0"/>
<path d="M810 432h1v12h-1zM808 433h2v1h-2zM811 435h2v1h-2z" fill="#a3dbe0"/>
<path d="M817 423h1v26h-1zM815 435h2v1h-2zM818 435h2v1h-2z" fill="#a3dbe0"/>
<path d="M824 431h1v25h-1zM822 435h2v1h-2zM825 437h2v1h-2z" fill="#a3dbe0"/>
<path d="M831 404h1v42h-1zM829 437h2v1h-2zM832 441h2v1h-2z" fill="#ffcf03"/>
<path d="M838 384h1v68h-1zM836 441h2v1h-2zM839 389h2v1h-2z" fill="#ffcf03"/>
<path d="M845 358h1v42h-1zM843 389h2v1h-2zM846 369h2v1h-2z" fill="#ffcf03"/>
<path d="M852 364h1v28h-1zM850 369h2v1h-2zM853 378h2v1h-2z" fill="#a3dbe0"/>
<path d="M859 361h1v20h-1zM857 378h2v1h-2zM860 375h2v1h-2z" fill="#a3dbe0"/>
<path d="M866 366h1v20h-1zM864 375h2v1h-2zM867 380h2v1h-2z" fill="#1f9cac"/>
<path d="M873 376h1v21h-1zM871 380h2v1h-2zM874 393h2v1h-2z" fill="#1f9cac"/>
<path d="M880 385h1v19h-1zM878 393h2v1h-2zM881 403h2v1h-2z" fill="#1f9cac"/>
<path d="M887 372h1v31h-1zM885 402h2v1h-2zM888 381h2v1h-2z" fill="#1f9cac"/>
<path d="M894 381h1v14h-1zM892 381h2v1h-2zM895 387h2v1h-2z" fill="#a3dbe0"/>
<path d="M901 387h1v35h-1zM899 387h2v1h-2zM902 405h2v1h-2z" fill="#a3dbe0"/>
<path d="M908 398h1v23h-1zM906 405h2v1h-2zM909 405h2v1h-2z" fill="#a3dbe0"/>
<path d="M915 391h1v19h-1zM913 405h2v1h-2zM916 400h2v1h-2z" fill="#1f9cac"/>
<path d="M922 398h1v33h-1zM920 400h2v1h-2zM923 424h2v1h-2z" fill="#a3dbe0"/>
<path d="M930 420h1v27h-1zM928 424h2v1h-2zM931 446h2v1h-2z" fill="#a3dbe0"/>
<path d="M937 444h1v39h-1zM935 446h2v1h-2zM938 471h2v1h-2z" fill="#a3dbe0"/>
<path d="M944 449h1v27h-1zM942 471h2v1h-2zM945 453h2v1h-2z" fill="#a3dbe0"/>
<path d="M951 418h1v35h-1zM949 453h2v1h-2zM952 424h2v1h-2z" fill="#a3dbe0"/>
<path d="M958 421h1v22h-1zM956 424h2v1h-2zM959 436h2v1h-2z" fill="#a3dbe0"/>
<path d="M965 435h1v15h-1zM963 436h2v1h-2zM966 435h2v1h-2z" fill="#a3dbe0"/>
<path d="M972 429h1v16h-1zM970 435h2v1h-2zM973 442h2v1h-2z" fill="#1f9cac"/>
<path d="M979 427h1v15h-1zM977 441h2v1h-2zM980 439h2v1h-2z" fill="#1f9cac"/>
<path d="M986 423h1v22h-1zM984 439h2v1h-2zM987 427h2v1h-2z" fill="#a3dbe0"/>
<path d="M993 423h1v22h-1zM991 427h2v1h-2zM994 439h2v1h-2z" fill="#a3dbe0"/>
<path d="M1000 424h1v27h-1zM998 439h2v1h-2zM1001 429h2v1h-2z" fill="#a3dbe0"/>
<path d="M1007 407h1v83h-1zM1005 429h2v1h-2zM1008 488h2v1h-2z" fill="#ff7800"/>
<path d="M1014 478h1v26h-1zM1012 487h2v1h-2zM1015 489h2v1h-2z" fill="#ffcf03"/>
<path d="M1021 481h1v42h-1zM1019 489h2v1h-2zM1022 502h2v1h-2z" fill="#ffcf03"/>
<path d="M1028 494h1v32h-1zM1026 502h2v1h-2zM1029 511h2v1h-2z" fill="#ffcf03"/>
<path d="M1035 507h1v24h-1zM1033 511h2v1h-2zM1036 523h2v1h-2z" fill="#a3dbe0"/>
<path d="M1042 497h1v35h-1zM1040 523h2v1h-2zM1043 502h2v1h-2z" fill="#a3dbe0"/>
<path d="M1049 458h1v46h-1zM1047 502h2v1h-2zM1050 466h2v1h-2z" fill="#ffcf03"/>
<path d="M1057 465h1v17h-1zM1055 466h2v1h-2zM1058 470h2v1h-2z" fill="#a3dbe0"/>
<path d="M1064 434h1v35h-1zM1062 469h2v1h-2zM1065 434h2v1h-2z" fill="#a3dbe0"/>
<path d="M1071 410h1v36h-1zM1069 434h2v1h-2zM1072 423h2v1h-2z" fill="#a3dbe0"/>
<path d="M1078 396h1v29h-1zM1076 423h2v1h-2zM1079 400h2v1h-2z" fill="#a3dbe0"/>
<path d="M1085 393h1v16h-1zM1083 400h2v1h-2zM1086 400h2v1h-2z" fill="#a3dbe0"/>
<path d="M1092 395h1v12h-1zM1090 400h2v1h-2zM1093 405h2v1h-2z" fill="#a3dbe0"/>
<path d="M1099 386h1v29h-1zM1097 405h2v1h-2zM1100 387h2v1h-2z" fill="#a3dbe0"/>
<path d="M1106 381h1v19h-1zM1104 387h2v1h-2zM1107 399h2v1h-2z" fill="#a3dbe0"/>
<path d="M1113 391h1v39h-1zM1111 399h2v1h-2zM1114 420h2v1h-2z" fill="#a3dbe0"/>
<path d="M1120 405h1v21h-1zM1118 420h2v1h-2zM1121 409h2v1h-2z" fill="#a3dbe0"/>
<path d="M1127 406h1v12h-1zM1125 409h2v1h-2zM1128 415h2v1h-2z" fill="#1f9cac"/>
<path d="M1134 415h1v23h-1zM1132 415h2v1h-2zM1135 421h2v1h-2z" fill="#a3dbe0"/>
<path d="M1141 417h1v16h-1zM1139 421h2v1h-2zM1142 426h2v1h-2z" fill="#a3dbe0"/>
<path d="M1148 418h1v18h-1zM1146 426h2v1h-2zM1149 421h2v1h-2z" fill="#1f9cac"/>
<path d="M1155 419h1v11h-1zM1153 421h2v1h-2zM1156 425h2v1h-2z" fill="#1f9cac"/>
<path d="M1162 401h1v37h-1zM1160 425h2v1h-2zM1163 435h2v1h-2z" fill="#a3dbe0"/>
<path d="M1169 430h1v41h-1zM1167 435h2v1h-2zM1170 449h2v1h-2z" fill="#ffcf03"/>
<path d="M1176 447h1v43h-1zM1174 449h2v1h-2zM1177 490h2v1h-2z" fill="#ffcf03"/>
<path d="M1184 490h1v79h-1zM1182 490h2v1h-2zM1185 556h2v1h-2z" fill="#ff0000"/>
<path d="M1191 547h1v59h-1zM1189 556h2v1h-2zM1192 578h2v1h-2z" fill="#ff0000"/>
<path d="M1198 560h1v48h-1zM1196 578h2v1h-2zM1199 603h2v1h-2z" fill="#ffcf03"/>
<path d="M1205 581h1v34h-1zM1203 603h2v1h-2zM1206 588h2v1h-2z" fill="#ffcf03"/>
<path d="M1212 581h1v27h-1zM1210 588h2v1h-2zM1213 603h2v1h-2z" fill="#a3dbe0"/>
<path d="M1219 563h1v42h-1zM1217 603h2v1h-2zM1220 576h2v1h-2z" fill="#a3dbe0"/>
<path d="M1226 544h1v35h-1zM1224 576h2v1h-2zM1227 550h2v1h-2z" fill="#a3dbe0"/>
<path d="M1233 547h1v53h-1zM1231 550h2v1h-2zM1234 598h2v1h-2z" fill="#a3dbe0"/>
<path d="M1240 575h1v25h-1zM1238 598h2v1h-2zM1241 576h2v1h-2z" fill="#a3dbe0"/>
<path d="M1247 570h1v21h-1zM1245 576h2v1h-2zM1248 584h2v1h-2z" fill="#a3dbe0"/>
<path d="M1254 583h1v57h-1zM1252 584h2v1h-2zM1255 637h2v1h-2z" fill="#ffcf03"/>
<path d="M1261 614h1v23h-1zM1259 637h2v1h-2zM1262 625h2v1h-2z" fill="#a3dbe0"/>
<path d="M1268 615h1v24h-1zM1266 625h2v1h-2zM1269 617h2v1h-2z" fill="#a3dbe0"/>
<path d="M1275 604h1v21h-1zM1273 617h2v1h-2zM1276 612h2v1h-2z" fill="#a3dbe0"/>
<path d="M1282 610h1v24h-1zM1280 612h2v1h-2zM1283 633h2v1h-2z" fill="#a3dbe0"/>
<path d="M1289 627h1v125h-1zM1287 633h2v1h-2z" fill="#ff0000"/>
<path d="M1296 662h1v39h-1zM1297 697h2v1h-2z" fill="#ff7800"/>
<path d="M1303 686h1v62h-1zM1301 697h2v1h-2zM1304 745h2v1h-2z" fill="#ff7800"/>
<path d="M1311 721h1v42h-1zM1309 745h2v1h-2zM1312 728h2v1h-2z" fill="#ff0000"/>
<path d="M1318 707h1v37h-1zM1316 728h2v1h-2zM1319 741h2v1h-2z" fill="#a3dbe0"/>
<path d="M1325 698h1v100h-1zM1323 741h2v1h-2zM1326 709h2v1h-2z" fill="#ff0000"/>
<path d="M1332 671h1v44h-1zM1330 709h2v1h-2zM1333 681h2v1h-2z" fill="#ff7800"/>
<path d="M1339 636h1v64h-1zM1337 681h2v1h-2zM1340 657h2v1h-2z" fill="#ff7800"/>
<path d="M1346 649h1v79h-1zM1344 657h2v1h-2zM1347 721h2v1h-2z" fill="#ff7800"/>
<path d="M1353 655h1v86h-1zM1351 721h2v1h-2zM1354 655h2v1h-2z" fill="#ffcf03"/>
<path d="M1360 633h1v34h-1zM1358 655h2v1h-2zM1361 656h2v1h-2z" fill="#a3dbe0"/>
<path d="M1367 649h1v59h-1zM1365 656h2v1h-2zM1368 666h2v1h-2z" fill="#a3dbe0"/>
<path d="M1374 651h1v32h-1zM1372 666h2v1h-2zM1375 678h2v1h-2z" fill="#a3dbe0"/>
<path d="M1381 664h1v39h-1zM1379 678h2v1h-2zM1382 666h2v1h-2z" fill="#a3dbe0"/>
<path d="M1388 638h1v36h-1zM1386 666h2v1h-2zM1389 646h2v1h-2z" fill="#a3dbe0"/>
<path d="M1395 639h1v37h-1zM1393 646h2v1h-2zM1396 675h2v1h-2z" fill="#a3dbe0"/>
<path d="M1402 640h1v41h-1zM1400 676h2v1h-2zM1403 648h2v1h-2z" fill="#a3dbe0"/>
<path d="M1409 631h1v35h-1zM1407 648h2v1h-2zM1410 661h2v1h-2z" fill="#a3dbe0"/>
<path d="M1416 645h1v21h-1zM1414 661h2v1h-2zM1417 646h2v1h-2z" fill="#a3dbe0"/>
<path d="M1423 645h1v31h-1zM1421 646h2v1h-2zM1424 668h2v1h-2z" fill="#1f9cac"/>
<path d="M1430 665h1v13h-1zM1428 668h2v1h-2zM1431 671h2v1h-2z" fill="#1f9cac"/>
<path d="M1438 667h1v24h-1zM1436 671h2v1h-2zM1439 677h2v1h-2z" fill="#a3dbe0"/>
<path d="M1445 675h1v15h-1zM1443 677h2v1h-2zM1446 676h2v1h-2z" fill="#1f9cac"/>
<path d="M1452 659h1v24h-1zM1450 676h2v1h-2zM1453 664h2v1h-2z" fill="#1f9cac"/>
<path d="M1459 663h1v9h-1zM1457 664h2v1h-2zM1460 666h2v1h-2z" fill="#1f9cac"/>
<path d="M1466 666h1v21h-1zM1464 666h2v1h-2zM1467 685h2v1h-2z" fill="#1f9cac"/>
<path d="M1473 674h1v22h-1zM1471 685h2v1h-2zM1474 688h2v1h-2z" fill="#a3dbe0"/>
<path d="M1480 678h1v24h-1zM1478 688h2v1h-2zM1481 695h2v1h-2z" fill="#a3dbe0"/>
<path d="M1487 674h1v25h-1zM1485 695h2v1h-2zM1488 682h2v1h-2z" fill="#1f9cac"/>
<path d="M1494 680h1v18h-1zM1492 682h2v1h-2zM1495 689h2v1h-2z" fill="#1f9cac"/>
<path d="M1501 681h1v16h-1zM1499 689h2v1h-2zM1502 687h2v1h-2z" fill="#1f9cac"/>
<path d="M1508 660h1v27h-1zM1506 686h2v1h-2zM1509 669h2v1h-2z" fill="#a3dbe0"/>
<path d="M1515 666h1v17h-1zM1513 669h2v1h-2zM1516 676h2v1h-2z" fill="#1f9cac"/>
<path d="M1522 655h1v23h-1zM1520 676h2v1h-2zM1523 661h2v1h-2z" fill="#1f9cac"/>
<path d="M1529 661h1v10h-1zM1527 661h2v1h-2zM1530 667h2v1h-2z" fill="#1f9cac"/>
<path d="M1536 663h1v5h-1zM1534 667h2v1h-2zM1537 663h2v1h-2z" fill="#1f9cac"/>
<path d="M1543 659h1v9h-1zM1541 663h2v1h-2zM1544 664h2v1h-2z" fill="#1f9cac"/>
<path d="M1550 658h1v19h-1zM1548 664h2v1h-2zM1551 670h2v1h-2z" fill="#1f9cac"/>
<path d="M1557 668h1v9h-1zM1555 670h2v1h-2zM1558 672h2v1h-2z" fill="#1f9cac"/>
<path d="M1564 643h1v33h-1zM1562 672h2v1h-2zM1565 650h2v1h-2z" fill="#a3dbe0"/>
<path d="M1572 646h1v17h-1zM1570 650h2v1h-2zM1573 661h2v1h-2z" fill="#1f9cac"/>
<path d="M1579 641h1v22h-1zM1577 661h2v1h-2zM1580 653h2v1h-2z" fill="#a3dbe0"/>
<path d="M1586 613h1v40h-1zM1584 653h2v1h-2zM1587 623h2v1h-2z" fill="#a3dbe0"/>
<path d="M1593 607h1v22h-1zM1591 623h2v1h-2zM1594 619h2v1h-2z" fill="#a3dbe0"/>
<path d="M1600 609h1v16h-1zM1598 619h2v1h-2zM1601 609h2v1h-2z" fill="#a3dbe0"/>
<path d="M1607 590h1v24h-1zM1605 609h2v1h-2zM1608 601h2v1h-2z" fill="#a3dbe0"/>
<path d="M1614 599h1v20h-1zM1612 601h2v1h-2zM1615 607h2v1h-2z" fill="#1f9cac"/>
<path d="M1621 602h1v21h-1zM1619 607h2v1h-2zM1622 622h2v1h-2z" fill="#1f9cac"/>
<path d="M1628 622h1v9h-1zM1626 623h2v1h-2zM1629 626h2v1h-2z" fill="#a3dbe0"/>
<path d="M1635 612h1v15h-1zM1633 626h2v1h-2zM1636 614h2v1h-2z" fill="#1f9cac"/>
<path d="M1642 603h1v12h-1zM1640 614h2v1h-2zM1643 606h2v1h-2z" fill="#1f9cac"/>
<path d="M1649 604h1v13h-1zM1647 606h2v1h-2zM1650 616h2v1h-2z" fill="#1f9cac"/>
<path d="M1656 605h1v20h-1zM1654 617h2v1h-2zM1657 608h2v1h-2z" fill="#a3dbe0"/>
<path d="M1663 589h1v21h-1zM1661 608h2v1h-2zM1664 601h2v1h-2z" fill="#a3dbe0"/>
<path d="M1670 588h1v20h-1zM1668 601h2v1h-2zM1671 588h2v1h-2z" fill="#1f9cac"/>
<path d="M1677 579h1v24h-1zM1675 588h2v1h-2zM1678 601h2v1h-2z" fill="#a3dbe0"/>
<path d="M1684 577h1v27h-1zM1682 601h2v1h-2zM1685 583h2v1h-2z" fill="#a3dbe0"/>
<path d="M1691 569h1v28h-1zM1689 583h2v1h-2zM1692 596h2v1h-2z" fill="#a3dbe0"/>
<path d="M1699 587h1v15h-1zM1697 596h2v1h-2zM1700 594h2v1h-2z" fill="#a3dbe0"/>
<path d="M1706 577h1v18h-1zM1704 594h2v1h-2zM1707 586h2v1h-2z" fill="#1f9cac"/>
<path d="M1713 563h1v25h-1zM1711 585h2v1h-2zM1714 575h2v1h-2z" fill="#a3dbe0"/>
<path d="M1720 562h1v16h-1zM1718 575h2v1h-2zM1721 569h2v1h-2z" fill="#a3dbe0"/>
<path d="M1727 552h1v29h-1zM1725 569h2v1h-2zM1728 553h2v1h-2z" fill="#1f9cac"/>
<path d="M1734 548h1v19h-1zM1732 553h2v1h-2zM1735 552h2v1h-2z" fill="#a3dbe0"/>
<path d="M1741 549h1v46h-1zM1739 552h2v1h-2zM1742 591h2v1h-2z" fill="#a3dbe0"/>
<path d="M1748 579h1v42h-1zM1746 591h2v1h-2zM1749 594h2v1h-2z" fill="#a3dbe0"/>
<path d="M1755 583h1v23h-1zM1753 594h2v1h-2zM1756 583h2v1h-2z" fill="#a3dbe0"/>
<path d="M1762 550h1v34h-1zM1760 583h2v1h-2zM1763 568h2v1h-2z" fill="#a3dbe0"/>
<path d="M1769 559h1v20h-1zM1767 568h2v1h-2zM1770 570h2v1h-2z" fill="#a3dbe0"/>
<path d="M1776 566h1v38h-1zM1774 570h2v1h-2zM1777 594h2v1h-2z" fill="#a3dbe0"/>
<path d="M1783 558h1v38h-1zM1781 594h2v1h-2zM1784 570h2v1h-2z" fill="#a3dbe0"/>
<path d="M1790 568h1v24h-1zM1788 570h2v1h-2zM1791 589h2v1h-2z" fill="#a3dbe0"/>
<path d="M1797 574h1v22h-1zM1795 589h2v1h-2zM1798 583h2v1h-2z" fill="#a3dbe0"/>
<path d="M1804 584h1v11h-1zM1802 583h2v1h-2zM1805 587h2v1h-2z" fill="#1f9cac"/>
<path d="M1811 587h1v38h-1zM1809 587h2v1h-2zM1812 621h2v1h-2z" fill="#a3dbe0"/>
<path d="M1818 612h1v17h-1zM1816 621h2v1h-2zM1819 617h2v1h-2z" fill="#a3dbe0"/>
<path d="M1826 604h1v20h-1zM1824 617h2v1h-2zM1827 610h2v1h-2z" fill="#1f9cac"/>
<path d="M1833 608h1v15h-1zM1831 610h2v1h-2zM1834 619h2v1h-2z" fill="#a3dbe0"/>
<path d="M1840 600h1v21h-1zM1838 619h2v1h-2zM1841 613h2v1h-2z" fill="#a3dbe0"/>
<path d="M1847 597h1v46h-1zM1845 613h2v1h-2zM1848 613h2v1h-2z" fill="#a3dbe0"/>
<path d="M1854 594h1v28h-1zM1852 613h2v1h-2zM1855 598h2v1h-2z" fill="#a3dbe0"/>
<path d="M1861 562h1v36h-1zM1859 597h2v1h-2zM1862 580h2v1h-2z" fill="#a3dbe0"/>
<path d="M1868 534h1v53h-1zM1866 580h2v1h-2zM1869 540h2v1h-2z" fill="#a3dbe0"/>
<path d="M1875 528h1v18h-1zM1873 540h2v1h-2zM1876 529h2v1h-2z" fill="#a3dbe0"/>
<path d="M1882 525h1v23h-1zM1880 529h2v1h-2zM1883 541h2v1h-2z" fill="#a3dbe0"/>
<path d="M1889 511h1v30h-1zM1887 540h2v1h-2zM1890 515h2v1h-2z" fill="#a3dbe0"/>
<path d="M1896 515h1v13h-1zM1894 515h2v1h-2zM1897 527h2v1h-2z" fill="#1f9cac"/>
<path d="M1903 516h1v15h-1zM1901 527h2v1h-2zM1904 531h2v1h-2z" fill="#1f9cac"/>
<path d="M1910 530h1v13h-1zM1908 531h2v1h-2zM1911 542h2v1h-2z" fill="#1f9cac"/>
<path d="M1917 542h1v15h-1zM1915 542h2v1h-2zM1918 549h2v1h-2z" fill="#a3dbe0"/>
<path d="M1924 545h1v17h-1zM1922 549h2v1h-2zM1925 561h2v1h-2z" fill="#1f9cac"/>
<path d="M1931 554h1v16h-1zM1929 561h2v1h-2zM1932 555h2v1h-2z" fill="#a3dbe0"/>
<path d="M1938 551h1v16h-1zM1936 555h2v1h-2zM1939 558h2v1h-2z" fill="#1f9cac"/>
<path d="M1945 535h1v24h-1zM1943 558h2v1h-2zM1946 541h2v1h-2z" fill="#1f9cac"/>
<path d="M1953 541h1v13h-1zM1951 541h2v1h-2zM1954 548h2v1h-2z" fill="#1f9cac"/>
<path d="M1960 547h1v12h-1zM1958 548h2v1h-2zM1961 552h2v1h-2z" fill="#1f9cac"/>
<path d="M1967 550h1v26h-1zM1965 552h2v1h-2zM1968 573h2v1h-2z" fill="#a3dbe0"/>
<path d="M1974 565h1v20h-1zM1972 573h2v1h-2zM1975 585h2v1h-2z" fill="#a3dbe0"/>
<path d="M1981 577h1v20h-1zM1979 585h2v1h-2zM1982 578h2v1h-2z" fill="#a3dbe0"/>
<path d="M1988 571h1v16h-1zM1986 578h2v1h-2zM1989 572h2v1h-2z" fill="#1f9cac"/>
<path d="M1995 568h1v7h-1zM1993 572h2v1h-2zM1996 574h2v1h-2z" fill="#1f9cac"/>
<path d="M2002 559h1v15h-1zM2000 573h2v1h-2zM2003 569h2v1h-2z" fill="#a3dbe0"/>
<path d="M2009 561h1v29h-1zM2007 569h2v1h-2zM2010 583h2v1h-2z" fill="#a3dbe0"/>
<rect x="7" y="119" width="3257" height="2" fill="#f5364a"/>
<rect x="7" y="249" width="204" height="2" fill="#4db652"/>
<rect x="7" y="386" width="204" height="2" fill="#4db652"/>
<rect x="209" y="249" width="2" height="139" fill="#4db652"/>
<rect x="223" y="246" width="3041" height="2" fill="#f5364a"/>
<rect x="223" y="351" width="3041" height="2" fill="#f5364a"/>
<rect x="223" y="246" width="2" height="107" fill="#f5364a"/>
<rect x="724" y="411" width="1970" height="2" fill="#f5364a"/>
<rect x="724" y="483" width="1970" height="2" fill="#f5364a"/>
<rect x="724" y="411" width="2" height="74" fill="#f5364a"/>
<rect x="2692" y="411" width="2" height="74" fill="#f5364a"/>
<rect x="7" y="551" width="1234" height="2" fill="#4db652"/>
<rect x="7" y="754" width="1234" height="2" fill="#4db652"/>
<rect x="1239" y="551" width="2" height="205" fill="#4db652"/>
<rect x="1274" y="683" width="1329" height="2" fill="#4db652"/>
<rect x="1274" y="748" width="1329" height="2" fill="#4db652"/>
<rect x="1274" y="683" width="2" height="67" fill="#4db652"/>
<rect x="2601" y="683" width="2" height="67" fill="#4db652"/>
<g transform="translate(2009.5 852.5)"><circle r="9.6" fill="#0e0e10"/><path d="M2.95 -9.0 A9.5 9.5 0 1 0 9.1 -2.75" fill="none" stroke="#b04fd0" stroke-width="2"/><path d="M2.6 -5.3 L-4 1.0 L0.4 1.0 L-2.9 5.5 L4.1 -0.5 L-0.2 -0.5 Z" fill="#b04fd0"/><circle cx="7" cy="-6.8" r="2.7" fill="#f23645"/></g>
<text x="3273.3" y="855.3" class="ax" style="font-size:12.5px" textLength="53.7" lengthAdjust="spacingAndGlyphs">79,000.00</text>
<text x="3273.3" y="822.0" class="ax" style="font-size:12.5px" textLength="53.7" lengthAdjust="spacingAndGlyphs">80,000.00</text>
<text x="3273.3" y="788.8" class="ax" style="font-size:12.5px" textLength="53.7" lengthAdjust="spacingAndGlyphs">81,000.00</text>
<text x="3273.3" y="755.5" class="ax" style="font-size:12.5px" textLength="53.7" lengthAdjust="spacingAndGlyphs">82,000.00</text>
<text x="3273.3" y="722.3" class="ax" style="font-size:12.5px" textLength="53.7" lengthAdjust="spacingAndGlyphs">83,000.00</text>
<text x="3273.3" y="689.0" class="ax" style="font-size:12.5px" textLength="53.7" lengthAdjust="spacingAndGlyphs">84,000.00</text>
<text x="3273.3" y="655.7" class="ax" style="font-size:12.5px" textLength="53.7" lengthAdjust="spacingAndGlyphs">85,000.00</text>
<text x="3273.3" y="622.5" class="ax" style="font-size:12.5px" textLength="53.7" lengthAdjust="spacingAndGlyphs">86,000.00</text>
<text x="3273.3" y="556.0" class="ax" style="font-size:12.5px" textLength="53.7" lengthAdjust="spacingAndGlyphs">88,000.00</text>
<text x="3273.3" y="522.7" class="ax" style="font-size:12.5px" textLength="53.7" lengthAdjust="spacingAndGlyphs">89,000.00</text>
<text x="3273.3" y="489.4" class="ax" style="font-size:12.5px" textLength="53.7" lengthAdjust="spacingAndGlyphs">90,000.00</text>
<text x="3273.3" y="456.2" class="ax" style="font-size:12.5px" textLength="53.7" lengthAdjust="spacingAndGlyphs">91,000.00</text>
<text x="3273.3" y="422.9" class="ax" style="font-size:12.5px" textLength="53.7" lengthAdjust="spacingAndGlyphs">92,000.00</text>
<text x="3273.3" y="389.7" class="ax" style="font-size:12.5px" textLength="53.7" lengthAdjust="spacingAndGlyphs">93,000.00</text>
<text x="3273.3" y="356.4" class="ax" style="font-size:12.5px" textLength="53.7" lengthAdjust="spacingAndGlyphs">94,000.00</text>
<text x="3273.3" y="323.1" class="ax" style="font-size:12.5px" textLength="53.7" lengthAdjust="spacingAndGlyphs">95,000.00</text>
<text x="3273.3" y="289.9" class="ax" style="font-size:12.5px" textLength="53.7" lengthAdjust="spacingAndGlyphs">96,000.00</text>
<text x="3273.3" y="256.6" class="ax" style="font-size:12.5px" textLength="53.7" lengthAdjust="spacingAndGlyphs">97,000.00</text>
<text x="3273.3" y="223.4" class="ax" style="font-size:12.5px" textLength="53.7" lengthAdjust="spacingAndGlyphs">98,000.00</text>
<text x="3273.3" y="190.1" class="ax" style="font-size:12.5px" textLength="53.7" lengthAdjust="spacingAndGlyphs">99,000.00</text>
<text x="3273.3" y="156.8" class="ax" style="font-size:12.5px" textLength="59.4" lengthAdjust="spacingAndGlyphs">100,000.00</text>
<text x="3273.3" y="123.6" class="ax" style="font-size:12.5px" textLength="59.4" lengthAdjust="spacingAndGlyphs">101,000.00</text>
<text x="3273.3" y="90.3" class="ax" style="font-size:12.5px" textLength="59.4" lengthAdjust="spacingAndGlyphs">102,000.00</text>
<text x="34.5" y="1224" class="ax" text-anchor="middle">14</text>
<text x="118.5" y="1224" class="ax" text-anchor="middle">12:00</text>
<text x="203.5" y="1224" class="ax" text-anchor="middle">15</text>
<text x="288.5" y="1224" class="ax" text-anchor="middle">12:00</text>
<text x="372.5" y="1224" class="ax" text-anchor="middle">16</text>
<text x="457.5" y="1224" class="ax" text-anchor="middle">12:00</text>
<text x="542.5" y="1224" class="ax" text-anchor="middle">17</text>
<text x="626.5" y="1224" class="ax" text-anchor="middle">12:00</text>
<text x="711.5" y="1224" class="ax" text-anchor="middle">18</text>
<text x="795.5" y="1224" class="ax" text-anchor="middle">12:00</text>
<text x="880.5" y="1224" class="ax" text-anchor="middle">19</text>
<text x="965.5" y="1224" class="ax" text-anchor="middle">12:00</text>
<text x="1049.5" y="1224" class="ax" text-anchor="middle">20</text>
<text x="1134.5" y="1224" class="ax" text-anchor="middle">12:00</text>
<text x="1219.5" y="1224" class="ax" text-anchor="middle">21</text>
<text x="1303.5" y="1224" class="ax" text-anchor="middle">12:00</text>
<text x="1388.5" y="1224" class="ax" text-anchor="middle">22</text>
<text x="1473.5" y="1224" class="ax" text-anchor="middle">12:00</text>
<text x="1557.5" y="1224" class="ax" text-anchor="middle">23</text>
<text x="1642.5" y="1224" class="ax" text-anchor="middle">12:00</text>
<text x="1727.5" y="1224" class="ax" text-anchor="middle">24</text>
<text x="1811.5" y="1224" class="ax" text-anchor="middle">12:00</text>
<text x="1896.5" y="1224" class="ax" text-anchor="middle">25</text>
<text x="1981.5" y="1224" class="ax" text-anchor="middle">12:00</text>
<text x="2065.5" y="1224" class="ax" text-anchor="middle">26</text>
<text x="2150.5" y="1224" class="ax" text-anchor="middle">12:00</text>
<text x="2235.5" y="1224" class="ax" text-anchor="middle">27</text>
<text x="2319.5" y="1224" class="ax" text-anchor="middle">12:00</text>
<text x="2404.5" y="1224" class="ax" text-anchor="middle">28</text>
<text x="2489.5" y="1224" class="ax" text-anchor="middle">12:00</text>
<text x="2573.5" y="1224" class="ax" text-anchor="middle">29</text>
<text x="2658.5" y="1224" class="ax" text-anchor="middle">12:00</text>
<text x="2743.5" y="1224" class="ax" text-anchor="middle">30</text>
<text x="2827.5" y="1224" class="ax" text-anchor="middle">12:00</text>
<text x="2912.5" y="1224" class="ax" text-anchor="middle" font-weight="bold">Dec</text>
<text x="2997.5" y="1224" class="ax" text-anchor="middle">12:00</text>
<text x="3081.5" y="1224" class="ax" text-anchor="middle">2</text>
<text x="3166.5" y="1224" class="ax" text-anchor="middle">12:00</text>
<text x="3251.5" y="1224" class="ax" text-anchor="middle">3</text>
<text x="3273" y="939.8" class="ax">10K</text>
<text x="3273" y="977.1" class="ax">8K</text>
<text x="3273" y="1014.4" class="ax">6K</text>
<text x="3273" y="1051.7" class="ax">4K</text>
<text x="3273" y="1089.0" class="ax">2K</text>
<text x="3273" y="1126.3" class="ax">0</text>
<text x="3273" y="1195" class="ax">0.00</text>
<rect x="3268.5" y="48.5" width="69" height="25" rx="3" fill="#0f0f10" stroke="#3b3b3b" stroke-width="1"/>
<text x="3276.5" y="66" class="ax" style="fill:#e0e0e0;stroke:#e0e0e0;font-size:12.5px" textLength="29" lengthAdjust="spacingAndGlyphs">USDT</text>
<line x1="7" y1="583.5" x2="3264" y2="583.5" stroke="#a3d9de" stroke-width="1" stroke-dasharray="1 2"/>
<path d="M3265 575 H3329 Q3331 575 3331 577 V604 Q3331 606 3329 606 H3265 Z" fill="#a3d9de"/>
<text x="3272.8" y="586.7" class="ax" style="fill:#131722;stroke:#131722;font-size:12px" textLength="53" lengthAdjust="spacingAndGlyphs">87,088.28</text>
<text x="3272.8" y="600.8" class="ax" style="fill:#2f4649;stroke:#2f4649;font-size:12px" textLength="30" lengthAdjust="spacingAndGlyphs">09:03</text>
<path d="M3265 1097.5 H3294.5 Q3296.5 1097.5 3296.5 1099.5 V1112 Q3296.5 1114 3294.5 1114 H3265 Z" fill="#a3d9de"/>
<text x="3273" y="1110" class="ax" style="fill:#131722;stroke:#131722">822</text>
<text x="15" y="887" class="lbl">Vol · BTC (20)</text>
<text x="15" y="921" class="lbl" style="font-size:12.64px">HMV [xdecow] (610, 610, 4, 2.5, 1, -0.5, Backgrounds, Heatmap)</text>
<text x="15" y="1162" class="lbl">ADX · 60 (14, 25)</text>
<text x="15" y="65" class="lbl" style="font-size:12.8px">Bitcoin / TetherUS · 1h · Binance</text>
<rect x="6.5" y="43.5" width="3336" height="1191" fill="none" stroke="#eef0f5" stroke-width="1"/>
</svg>
<svg style="left:0;top:1240px" width="140" height="28" viewBox="0 1240 140 28">
<path d="M5.8 1246.3H15.1V1257.8H10.1V1250.9H5.8Z" fill="#d1d4dc"/>
<circle cx="18.7" cy="1248.4" r="2.1" fill="#d1d4dc"/>
<path d="M23 1246.3H28.6L24.7 1257.8H19.1Z" fill="#d1d4dc"/>
<text x="33" y="1257.8" style="font-family:'Liberation Sans',Arial,sans-serif;font-weight:bold;font-size:16px;fill:#d1d4dc" textLength="92.5" lengthAdjust="spacingAndGlyphs">TradingView</text>
</svg>
</body></html>
